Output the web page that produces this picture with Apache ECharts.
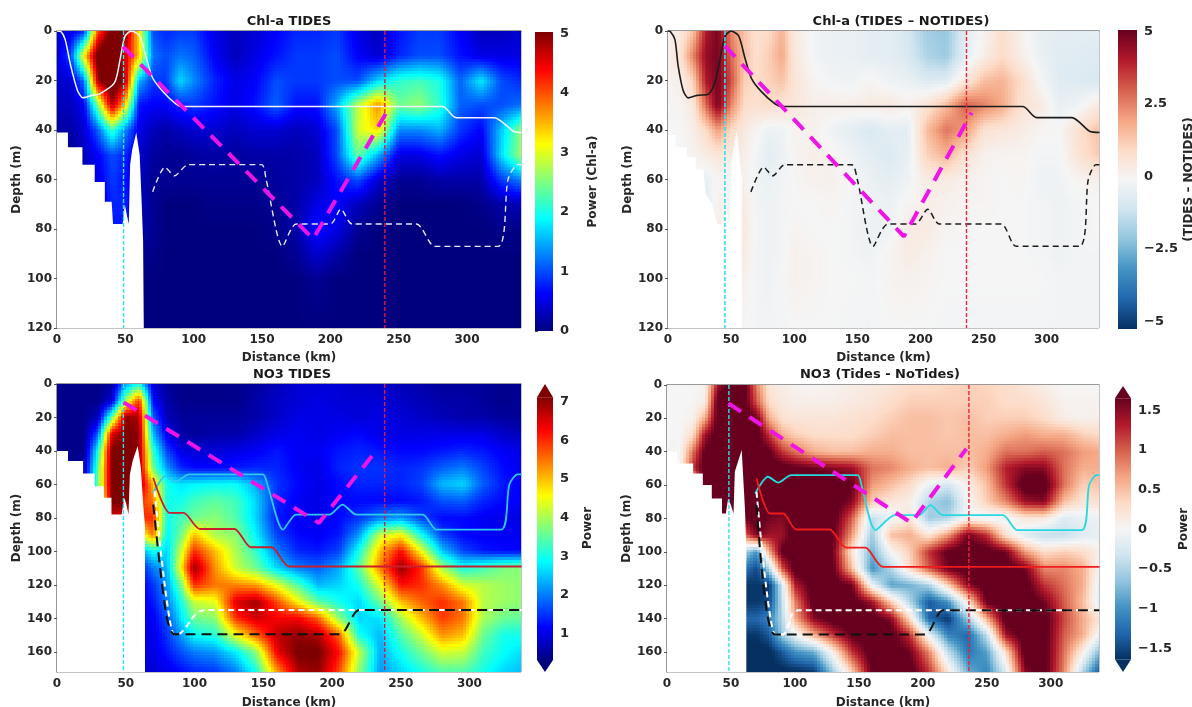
<!DOCTYPE html>
<html>
<head>
<meta charset="utf-8">
<title>Chl-a and NO3 power sections</title>
<script src="https://cdn.jsdelivr.net/npm/echarts@6/dist/echarts.min.js"></script>
<style>
  html, body { margin: 0; padding: 0; background: #fff; overflow: hidden; }
  #chart { width: 1192px; height: 707px; }
</style>
</head>
<body>
<div id="chart"></div>
<script>
// grid nodes of all four sections
const xsKm = [0,10,20,30,40,50,60,70,80,90,100,115,130,145,160,175,190,205,220,235,250,265,280,295,310,325,342];
const depthTop = [0,10,20,30,40,50,60,70,80,90,100,120];
const depthBot = [0,10,20,30,40,50,60,70,80,90,100,110,120,130,140,150,160,172];

// Chl-a TIDES
const chlTides = [
  [.4,.5,.8,4,5.2,5,3.2,1,.8,.9,.9,.5,.3,.4,.6,.8,.8,.9,.5,.3,.7,.9,.9,.6,.3,.3,.4],
  [.4,1,3.2,5.3,5.5,4.6,3.4,1.2,1,1.2,1.1,.6,.3,.5,.7,.9,.9,1,.6,.4,.8,1,1,.7,.5,.5,.5],
  [.4,.4,1.2,4.8,5.5,4.8,1.5,.9,.9,1.7,1.3,.8,.5,.6,1,.9,.9,1,1,1.7,2.1,2.2,2,1.1,1.8,1,.8],
  [.3,.3,.6,2.5,4.8,3.4,.7,.6,.6,.8,.9,.7,.5,.7,1.1,.7,.7,1.5,2.8,3.7,2.4,2.6,2.1,1.1,1,1,1.2],
  [.2,.2,.4,1.1,2.2,1.3,.5,.3,.2,.3,.4,.4,.3,.4,.4,.3,.4,1,2.9,3.3,1.3,1.3,1.5,.9,.6,1.6,2.7],
  [.1,.1,.3,.6,1,.8,.4,.15,.1,.1,.15,.2,.15,.2,.2,.2,.3,1,2.4,1.5,.5,.5,.7,.5,.4,1.7,2.8],
  [0,.1,.2,.5,.9,.7,.3,.1,.1,.1,.1,.1,.1,.1,.15,.2,.3,.7,1,.4,.1,.1,.2,.2,.2,.9,1.3],
  [0,0,.1,.3,.8,.8,.3,.1,0,0,0,.05,.05,.05,.1,.2,.5,.6,.3,.1,0,0,0,0,.05,.2,.3],
  [0,0,0,.2,.7,.7,.2,.1,0,0,0,0,0,0,.05,.2,.7,.5,.1,0,0,0,0,0,0,.05,.05],
  [0,0,0,.1,.3,.3,.1,.05,0,0,0,0,0,0,0,.1,.4,.2,0,0,0,0,0,0,0,0,0],
  [0,0,0,0,0,0,0,0,0,0,0,0,0,0,0,0,.1,0,0,0,0,0,0,0,0,0,0],
  [0,0,0,0,0,0,0,0,0,0,0,0,0,0,0,0,0,0,0,0,0,0,0,0,0,0,0]
];

// Chl-a (TIDES - NOTIDES)
const chlDiff = [
  [.2,.5,1.5,4.2,5,2.5,1.5,.8,1,1.8,.5,-.1,-.3,-.3,-.5,-.5,-.9,-1.8,-2,-.6,.1,.9,.2,-.4,-.5,-.5,-.5],
  [.2,.8,2.6,4.6,5,3,1.6,.9,1.3,2,.6,-.1,-.3,-.3,-.5,-.5,-.8,-1.6,-1.9,-.5,.3,1,.3,-.3,-.6,-.6,-.7],
  [.1,.3,1.2,4.2,5,3.4,1.3,1,1.2,1.5,.7,.1,-.1,-.2,.1,-.2,-.3,-.7,-.6,.5,1.6,1.8,1,0,-.6,-.7,-.8],
  [0,.1,.5,3,5,2.6,1,.8,1,.8,.6,.3,.3,.3,.4,.5,.2,.7,1.6,3.1,2.6,2,.8,.5,-.4,-.2,.5],
  [0,0,.3,1,2.2,1,.5,.1,-.3,-.2,.1,.2,-.2,-.5,-.8,-.5,-.5,1.6,2.8,2.2,.8,.6,.4,.1,0,.8,1.6],
  [0,0,.1,.4,.6,.4,.3,-.1,-.5,-.3,.1,.3,.1,-.2,-.5,-.7,-.4,1.2,1.8,.8,.2,.1,.1,-.1,-.1,.7,1.4],
  [0,0,-.1,-.4,.1,0,.2,-.2,-.3,-.1,0,.2,.2,0,-.3,-.5,-.2,.4,.4,.2,.1,0,.1,-.2,-.2,.1,.2],
  [0,0,0,-.5,.2,0,.4,-.1,-.2,-.1,0,0,.1,-.1,-.2,-.3,.1,.3,.2,.1,.1,0,0,-.1,-.2,-.1,0],
  [0,0,0,0,.3,0,.5,-.1,-.2,-.1,.1,0,0,-.1,-.3,-.2,.4,.4,.1,0,0,0,0,-.1,-.2,-.1,0],
  [0,0,0,0,0,0,.4,-.1,-.2,-.1,.2,.1,0,-.1,-.2,.1,.4,.2,0,0,0,0,0,-.1,-.2,-.1,-.1],
  [0,0,0,0,0,0,.2,-.1,-.2,0,.2,.1,0,0,-.1,.1,.2,.1,0,0,0,0,0,0,-.1,-.1,-.1],
  [0,0,0,0,0,0,0,-.1,-.1,-.1,0,0,0,-.1,-.1,0,0,0,-.1,-.1,-.1,-.1,-.1,-.1,-.1,-.1,-.1]
];

// NO3 TIDES
const no3Tides = [
  [.4,.4,.4,.4,.5,2.2,3,.9,.5,.4,.4,.4,.4,.5,.7,.9,.9,.9,.8,.8,.7,.6,.5,.5,.5,.4,.5],
  [.4,.4,.4,.4,.9,4,6,1.2,.6,.4,.4,.4,.4,.6,.8,.9,1,.9,.9,.9,.8,.7,.6,.6,.5,.4,.5],
  [.4,.4,.4,.7,3.5,7,6.8,1.8,.7,.5,.5,.5,.5,.6,.8,1,1,1,.9,1,.9,.8,.7,.6,.6,.5,.5],
  [.4,.4,.4,1.8,6.5,7.2,7,2.4,1,.6,.5,.6,.6,.8,1,1.1,1,1.1,1.2,1,1,1,1,1,1,.8,.7],
  [.4,.4,.4,3,7.2,7.2,7,3.2,1.6,1,.9,.9,1,1.1,1.3,1.1,1.1,1.3,1.4,1.3,1.2,1.2,1.3,1.4,1.3,1.1,1],
  [.4,.4,.6,3.5,7.2,7.2,7,3.6,2.2,1.4,1.2,1.2,1.3,1.4,1.4,1.1,1,1.4,1.5,1.5,1.4,1.5,1.8,2,1.6,1.2,1],
  [.4,.4,.6,3.6,7.2,7.2,7,5,3,2.7,2.8,2.9,2.9,2.3,1.5,1.2,1,1.2,1.4,1.4,1.4,1.6,2.4,2.6,1.8,1.3,1.1],
  [.4,.4,.6,3,7.2,7.2,6,5.5,3,3,3.3,3.5,3.3,2.6,1.4,1.1,1,1.2,1.2,1.2,1.2,1.3,1.7,1.8,1.4,1.2,1.1],
  [.4,.4,.6,2,6.5,6.5,6,6,3,3.3,3.6,3.8,3.4,2.6,1.3,1.1,1,1.2,1.5,2,2.2,1.6,1.2,1.2,1.1,1,1],
  [.4,.4,.4,.4,.4,.4,4,5.5,2.8,3.6,5,4,3.8,2.8,1.6,1.2,1.1,1.3,2.2,4.2,4.6,3,1.6,1.2,1.1,1.1,1.1],
  [.4,.4,.4,.4,.4,.4,2,3,2.6,4.2,6,5,4,3.2,2,1.4,1.3,1.6,3,5,6.2,4.5,2.5,1.6,1.3,1.2,1.2],
  [.4,.4,.4,.4,.4,.4,1.2,2,2.4,4.6,7,5.3,4.2,3.6,2.6,2,1.8,2.3,3.5,5.4,7,6,4,3,3.3,3.7,3.8],
  [.4,.4,.4,.4,.4,.4,1,1.5,2.2,3.6,6,5.5,5.4,5.2,4.4,3.4,2.4,2.6,3,4.4,6.2,6,5.3,4.3,4.1,3.9,3.8],
  [.4,.4,.4,.4,.4,.4,1,1.3,2,3,4.2,4.4,6.5,6.9,5.8,4.6,3.5,3,2.6,3.6,5,5.6,6,5.5,4.1,3.9,3.8],
  [.4,.4,.4,.4,.4,.4,1,1.1,1.7,2.7,3.6,3.8,6,6.6,6.3,6.3,5.6,3.8,2.6,2.7,4,5,5.9,5.5,4,3.6,3.5],
  [.4,.4,.4,.4,.4,.4,1,1,1.5,2.2,2.9,3.1,4.5,5.6,6.7,7,6.8,5.6,3,2.4,3.4,4.2,5.3,5,3.6,3,3],
  [.4,.4,.4,.4,.4,.4,.9,1,1.3,1.7,2,2.2,2.8,3.8,6.4,7.2,7.2,6.2,4.2,2.3,3,3.6,4.3,4.2,3.3,2.9,2.6],
  [.4,.4,.4,.4,.4,.4,.8,.9,1,1.2,1.4,1.5,2,3,5.2,6.8,7,5.8,3.8,2.2,2.6,3,3.4,3.4,3,2.6,2.4]
];

// NO3 (Tides - NoTides)
const no3Diff = [
  [0,0,0,.05,1.4,1.8,1.8,.8,.2,.1,.05,0,.05,.1,.15,.2,.3,.3,.35,.4,.35,.3,.2,.1,0,0,0],
  [0,0,0,.1,1.8,1.8,1.8,1,.3,.15,.1,.1,.1,.15,.2,.3,.4,.4,.4,.4,.4,.3,.3,.2,.05,.05,.05],
  [0,0,.05,.6,1.8,1.8,1.8,1.6,.6,.25,.2,.2,.2,.25,.3,.4,.5,.5,.45,.5,.4,.4,.4,.3,.1,.05,.1],
  [0,0,.3,1.4,1.8,1.8,1.8,1.8,1.2,.6,.4,.3,.3,.3,.4,.5,.5,.5,.45,.5,.5,.6,.7,.6,.6,.4,.3],
  [.05,0,.9,1.7,1.8,1.8,1.8,1.8,1.7,1.2,.9,.6,.5,.5,.6,.6,.5,.5,.5,.5,.6,.9,.9,1,.9,.7,.6],
  [0,0,1.2,1.8,1.8,1.8,1.8,1.8,1.8,1.8,1.7,1.6,1.5,1.4,.9,.8,.6,.5,.6,.4,.7,1.3,1.5,1.5,.9,.6,.6],
  [0,0,0,1.8,1.8,1.8,1.8,1.8,1.8,1.8,1.8,1.8,1.8,1.7,.7,.5,.3,-.1,-.3,.1,.5,1.2,1.8,1.8,.9,.4,.5],
  [0,0,0,1.8,1.8,1.8,1.8,1.8,1.8,1.8,1.8,1.8,1.8,1.5,.4,.2,.1,-.5,-.7,0,.4,.8,1.4,1.5,.5,.2,.3],
  [0,0,0,0,1.8,1.8,1.6,1.8,1.6,1.5,1.8,1.8,1.8,1,-.4,-.1,.2,-.6,-.5,0,-.1,-.1,.2,.2,-.2,-.1,-.1],
  [0,0,0,0,0,0,.9,1.6,1.4,1.4,1.8,1.8,1.7,.7,-.6,.5,.6,.2,.7,1.6,1.2,.2,-.2,-.4,-.4,-.2,-.1],
  [0,0,0,0,0,0,-.5,-1,.6,1.7,1.8,1.8,1.6,.2,-.8,0,.4,1.2,1.7,1.8,1.8,1.6,.7,.3,.4,.3,0],
  [0,0,0,0,0,0,-1.2,-1.5,-.5,1,1.8,1.8,1.7,.5,-1,-.5,.3,1,1.6,1.8,1.8,1.8,1.6,.8,.8,.6,-.2],
  [0,0,0,0,0,0,-1.6,-1.6,-1.6,-.3,1.3,1.8,1.8,1.6,-.1,-.9,-.8,-.5,.4,1.5,1.8,1.8,1.8,1.2,.9,.6,-.4],
  [0,0,0,0,0,0,-1.6,-1.6,-1.5,-.4,.8,1.8,1.8,1.8,1.4,.4,-.5,-1.4,-1,.2,1.7,1.8,1.8,1.6,1,.5,-.4],
  [0,0,0,0,0,0,-1.3,-1.3,-1.1,-.5,.6,1.5,1.8,1.8,1.8,1.5,.3,-1.3,-1.6,-.6,.6,1.8,1.8,1.8,1.1,.6,.1],
  [0,0,0,0,0,0,-1.6,-1.6,-1.4,-.6,-.1,.6,1.2,1.7,1.8,1.8,1.2,-.1,-1.1,-1.3,-.4,1.4,1.8,1.8,1,.6,-.3],
  [0,0,0,0,0,0,-1.7,-1.7,-1.7,-1.4,-1,-.8,.1,1.2,1.8,1.8,1.6,.8,-.4,-1.2,-.9,.3,1.8,1.8,.9,.1,-1],
  [0,0,0,0,0,0,-1.7,-1.7,-1.7,-1.7,-1.7,-1.6,-.6,.4,1.7,1.8,1.8,1.2,.2,-.8,-1.1,-.2,1.5,1.8,.8,-.5,-1.7]
];

// seabed outlines, [km, depth]
const seabedTL = [[0,41],[8,41],[8,47],[18.6,47],[18.6,54],[27.6,54],[27.6,61],[35,61],[35,69],[40,69],[41,78],[48,78],[49.6,70],[51,74],[52.5,78],[53.5,54],[55,48],[58,41],[60.5,50],[62,70],[63,85],[63.5,120],[0,120]];
const seabedTR = [[0,42],[6,42],[6,47],[15,47],[15,51],[22,51],[22,56],[28,56],[30,66],[35,70],[39,78],[44,78],[45,70],[47,74],[49,78],[50,54],[54.5,40],[58.4,60],[58.4,120],[0,120]];
const seabedBL = [[0,40],[8,40],[8,46],[19,46],[19,53.5],[27.5,53.5],[27.5,61],[34,61],[34,68],[39.6,68],[39.6,78],[47,78],[49,68],[50.5,72],[52,78],[53,54],[55,46],[58.7,37],[61,50],[62.5,70],[64,85],[64,172],[0,172]];
const seabedBR = [[0,40],[8,40],[8,47],[20.5,47],[20.5,53],[28,53],[28,60],[35,60],[35,68],[43,68],[43,77],[46,77],[47.8,68],[50,72],[52,77],[53,52],[58.4,39],[61,75],[62,100],[62,172],[0,172]];

// top panels: surface-layer curve
const curveDepth = [0,.3,3.5,14,24,27,26,25.5,21,12,2.3,0,2,11,19,24.5,29.5,30.5,30.5,35,35,40.5,41];
const curveKmTL = [0,3,6,10,15,19,26,31,42,46,49.6,54.4,60.5,65.4,70,77.6,87,91,282,292,320,334,340];
const curveKmTR = [0,2,5.5,8,12,16,23,32,37,41,45,50,56,61,66,74,85,91,281,292,320,334,342];

// thermocline curve, shared by all panels
const thermoDepth = [65,55,58.5,54,54,60,87,78,78,72,78,78,87,87,60,54,54];
const thermoKmTL = [70,79,86,96,149.6,153,165,175,200,207.7,216,263,276.5,322.6,330,337,340];
const thermoKmTR = [65.7,75.8,83,92.6,145.4,150,162.5,174,196,205.8,215,264,276,326,333,339,342];
const thermoKmBL = [70,79,86,96,149.7,153,164.4,174,198,207.7,217.7,266,276,323,329,335,338];
const thermoKmBR = [69,79,87,97,149,152,163,178,197,206,215.6,262.6,274,324,330,335.7,338];

// bottom panels: red and black curves
const redDepth = [56,77,77,86.6,86.6,97.5,97.5,109,109];
const redKmBL = [70,82,92,104,129,141,156,169,338];
const redKmBR = [70,80.5,90.8,101,127,140,155,169,338];
const blackDepth = [72,110,140,149.5,149.5,135,135];
const blackKmBL = [70,75,80,85.6,205.6,220,338];
const blackKmBR = [70,74,79,84.5,201.6,216,338];
const whiteDepth = [64,149.5,149.5,137,135,135];
const whiteKmBL = [71,85,88,101.4,108,338];
const whiteKmBR = [70,84.5,90.8,98,102.4,338];

// magenta section, vertical markers
const magentaTL = [[48.3,6.3],[187.4,84],[241,33]];
const magentaTR = [[45,6],[186.9,83],[240.5,33]];
const magentaBL = [[48.5,11],[190.5,83],[233.5,38.4]];
const magentaBR = [[48,11],[191,82.6],[234,38.2]];
const cyanKm = [48.7,45.1,48.3,48.4];
const redKm = [239.9,236.5,238.3,236];

// tick labels
const tickKm = [0,50,100,150,200,250,300];
const tickDepthTop = [0,20,40,60,80,100,120];
const tickDepthBot = [0,20,40,60,80,100,120,140,160];
const tickChl = [0,1,2,3,4,5];
const tickChlDiff = [-5,-2.5,0,2.5,5];
const tickNo3 = [1,2,3,4,5,6,7];
const tickNo3Diff = [-1.5,-1,-.5,0,.5,1,1.5];

const JET = ['#00007f','#0000ff','#007fff','#00ffff','#7fff7f','#ffff00','#ff7f00','#ff0000','#7f0000'];
const RDBU = ['#053061','#2166ac','#4393c3','#92c5de','#d1e5f0','#f5f5f5','#fddbc7','#f4a582','#d6604d','#b2182b','#67001f'];
const FONT = 'DejaVu Sans';
const INK = '#262626';
const SUB_PX = 3;

function toRgb(hex) {
  return [parseInt(hex.slice(1, 3), 16), parseInt(hex.slice(3, 5), 16), parseInt(hex.slice(5, 7), 16)];
}

function makeColormap(stops, lo, hi) {
  const rgb = stops.map(toRgb);
  return function (v) {
    let t = (v - lo) / (hi - lo);
    t = Math.max(0, Math.min(1, t)) * (rgb.length - 1);
    const i = Math.min(rgb.length - 2, Math.floor(t));
    const f = t - i;
    const c = [0, 1, 2].map(k => Math.round(rgb[i][k] + (rgb[i + 1][k] - rgb[i][k]) * f));
    return 'rgb(' + c.join(',') + ')';
  };
}

// each grid cell is shaded between its four corner values
function heatSeries(idx, depths, values, colorOf) {
  const cells = [];
  for (let r = 0; r < depths.length - 1; r++) {
    for (let c = 0; c < xsKm.length - 1; c++) {
      cells.push([xsKm[c], depths[r], xsKm[c + 1], depths[r + 1],
        values[r][c], values[r][c + 1], values[r + 1][c], values[r + 1][c + 1]]);
    }
  }
  return {
    type: 'custom',
    coordinateSystem: 'cartesian2d',
    xAxisIndex: idx,
    yAxisIndex: idx,
    silent: true,
    progressive: 0,
    clip: true,
    data: cells,
    renderItem: function (params, api) {
      const a = api.coord([api.value(0), api.value(1)]);
      const b = api.coord([api.value(2), api.value(3)]);
      const v00 = api.value(4), v10 = api.value(5), v01 = api.value(6), v11 = api.value(7);
      const x0 = Math.round(a[0]), x1 = Math.round(b[0]);
      const y0 = Math.round(a[1]), y1 = Math.round(b[1]);
      const children = [];
      for (let y = y0; y < y1; y += SUB_PX) {
        const h = Math.min(SUB_PX, y1 - y);
        const ty = (y + h / 2 - y0) / (y1 - y0);
        for (let x = x0; x < x1; x += SUB_PX) {
          const w = Math.min(SUB_PX, x1 - x);
          const tx = (x + w / 2 - x0) / (x1 - x0);
          const top = v00 + (v10 - v00) * tx;
          const bot = v01 + (v11 - v01) * tx;
          children.push({
            type: 'rect',
            silent: true,
            shape: { x: x, y: y, width: w, height: h },
            style: { fill: colorOf(top + (bot - top) * ty) }
          });
        }
      }
      return { type: 'group', children: children };
    }
  };
}

function polygonSeries(idx, points, fill) {
  return {
    type: 'custom',
    coordinateSystem: 'cartesian2d',
    xAxisIndex: idx,
    yAxisIndex: idx,
    silent: true,
    data: [0],
    renderItem: function (params, api) {
      return {
        type: 'polygon',
        silent: true,
        shape: { points: points.map(p => api.coord(p)) },
        style: { fill: fill }
      };
    }
  };
}

function zipLine(xs, ys) {
  return xs.map((x, i) => [x, ys[i]]);
}

function lineSeries(idx, data, color, width, dash, smooth) {
  return {
    type: 'line',
    xAxisIndex: idx,
    yAxisIndex: idx,
    data: data,
    showSymbol: false,
    silent: true,
    smooth: smooth ? 0.25 : false,
    lineStyle: { color: color, width: width, type: dash || 'solid' }
  };
}

function colorbarSeries(idx, stops, lo, hi, extendLo, extendHi) {
  const reversed = stops.slice().reverse();
  return {
    type: 'custom',
    coordinateSystem: 'cartesian2d',
    xAxisIndex: idx,
    yAxisIndex: idx,
    silent: true,
    data: [0],
    renderItem: function (params, api) {
      const p0 = api.coord([0, hi]), p1 = api.coord([1, lo]);
      const children = [{
        type: 'rect',
        shape: { x: p0[0], y: p0[1], width: p1[0] - p0[0], height: p1[1] - p0[1] },
        style: {
          fill: new echarts.graphic.LinearGradient(0, 0, 0, 1,
            reversed.map((c, i) => ({ offset: i / (reversed.length - 1), color: c })))
        }
      }];
      if (extendHi !== undefined) {
        children.push({
          type: 'polygon',
          shape: { points: [api.coord([0, hi]), api.coord([1, hi]), api.coord([.5, extendHi])] },
          style: { fill: stops[stops.length - 1] }
        });
        children.push({
          type: 'polygon',
          shape: { points: [api.coord([0, lo]), api.coord([1, lo]), api.coord([.5, extendLo])] },
          style: { fill: stops[0] }
        });
      }
      return { type: 'group', children: children };
    }
  };
}

const panelBoxes = [
  { left: 57, top: 31, width: 464, height: 297 },
  { left: 668, top: 31, width: 431, height: 297 },
  { left: 57, top: 384, width: 464, height: 288 },
  { left: 667, top: 385, width: 432, height: 287 }
];
const barBoxes = [
  { left: 535, top: 32, width: 18, height: 299 },
  { left: 1118, top: 30, width: 19, height: 299 },
  { left: 537, top: 384, width: 16, height: 288 },
  { left: 1115, top: 386, width: 16, height: 286 }
];
const kmMax = [339.5, 341.5, 337.5, 337.7];
const depthMax = [120, 120, 172, 172];
const depthTicks = [tickDepthTop, tickDepthTop, tickDepthBot, tickDepthBot];
const distanceGap = [24, 24, 25, 25];

const barRanges = [
  { min: 0, max: 5.02, ticks: tickChl, name: 'Power (Chl-a)', gap: 34 },
  { min: -5.27, max: 5.05, ticks: tickChlDiff, name: '(TIDES \u2013 NOTIDES)', gap: 46 },
  { min: 0.01, max: 7.46, ticks: tickNo3, name: 'Power', gap: 29 },
  { min: -1.797, max: 1.805, ticks: tickNo3Diff, name: 'Power', gap: 47 }
];

const axisLabel = { color: INK, fontFamily: FONT, fontWeight: 'bold', fontSize: 12 };
const nameStyle = { color: INK, fontFamily: FONT, fontWeight: 'bold', fontSize: 12 };
const spine = { show: true, lineStyle: { color: '#8a8a8a', width: 1.5 } };

const grids = [], xAxes = [], yAxes = [];
panelBoxes.forEach((box, i) => {
  grids.push(Object.assign({ show: true, borderColor: '#8a8a8a', borderWidth: 1, backgroundColor: '#fff', outerBoundsMode: 'none' }, box));
  xAxes.push({
    type: 'value', gridIndex: i, min: 0, max: kmMax[i], position: 'bottom',
    name: 'Distance (km)', nameLocation: 'middle', nameGap: distanceGap[i], nameTextStyle: nameStyle,
    splitLine: { show: false }, axisLine: spine,
    axisTick: { length: 3, customValues: tickKm, lineStyle: { color: '#555' } },
    axisLabel: Object.assign({ margin: 6, customValues: tickKm }, axisLabel)
  });
  yAxes.push({
    type: 'value', gridIndex: i, inverse: true, min: 0, max: depthMax[i], position: 'left',
    name: 'Depth (m)', nameLocation: 'middle', nameGap: 28, nameTextStyle: nameStyle,
    splitLine: { show: false }, axisLine: spine,
    axisTick: { length: 3, customValues: depthTicks[i], lineStyle: { color: '#555' } },
    axisLabel: Object.assign({ margin: 5, customValues: depthTicks[i] }, axisLabel)
  });
});
barBoxes.forEach((box, i) => {
  const r = barRanges[i];
  grids.push(Object.assign({ show: false, outerBoundsMode: 'none' }, box));
  xAxes.push({ type: 'value', gridIndex: 4 + i, min: 0, max: 1, show: false });
  yAxes.push({
    type: 'value', gridIndex: 4 + i, min: r.min, max: r.max, position: 'right',
    name: r.name, nameLocation: 'middle', nameGap: r.gap, nameRotate: 90, nameTextStyle: nameStyle,
    splitLine: { show: false }, axisLine: { show: false },
    axisTick: { length: 3, customValues: r.ticks, lineStyle: { color: '#555' } },
    axisLabel: Object.assign({
      margin: 7, customValues: r.ticks,
      formatter: v => String(v).replace('-', '\u2212')
    }, axisLabel, { fontSize: 13 })
  });
});

const cmapChl = makeColormap(JET, 0, 5);
const cmapChlDiff = makeColormap(RDBU, -5.2, 5.2);
const cmapNo3 = makeColormap(JET, .32, 7.12);
const cmapNo3Diff = makeColormap(RDBU, -1.64, 1.64);

const vertical = (km, dMax) => [[km, 0], [km, dMax]];
const dashThin = [4, 2];
const dashMag = [15, 10];
const dashCurve = [6, 4];
const cyan = '#2be4f0';
const redV = '#e5183c';
const magenta = '#ee14e6';

const series = [
  // Chl-a TIDES
  heatSeries(0, depthTop, chlTides, cmapChl),
  polygonSeries(0, seabedTL, '#fff'),
  lineSeries(0, zipLine(curveKmTL, curveDepth), '#f4f4f8', 1.5, null, true),
  lineSeries(0, zipLine(thermoKmTL, thermoDepth), '#e8e8f4', 1.4, dashCurve, true),
  lineSeries(0, vertical(cyanKm[0], 120), cyan, 1.4, dashThin),
  lineSeries(0, vertical(redKm[0], 120), redV, 1.4, dashThin),
  lineSeries(0, magentaTL, magenta, 4, dashMag),
  // Chl-a diff
  heatSeries(1, depthTop, chlDiff, cmapChlDiff),
  polygonSeries(1, seabedTR, '#fff'),
  lineSeries(1, zipLine(curveKmTR, curveDepth), '#1c1c1c', 1.6, null, true),
  lineSeries(1, zipLine(thermoKmTR, thermoDepth), '#1c1c1c', 1.5, dashCurve, true),
  lineSeries(1, vertical(cyanKm[1], 120), cyan, 1.6, dashThin),
  lineSeries(1, vertical(redKm[1], 120), '#f0203c', 1.4, dashThin),
  lineSeries(1, magentaTR, magenta, 4, dashMag),
  // NO3 TIDES
  heatSeries(2, depthBot, no3Tides, cmapNo3),
  polygonSeries(2, seabedBL, '#fff'),
  lineSeries(2, zipLine(thermoKmBL, thermoDepth), '#2fc8ee', 1.8, null, true),
  lineSeries(2, zipLine(redKmBL, redDepth), '#c8202e', 1.8, null, true),
  lineSeries(2, zipLine(whiteKmBL, whiteDepth), '#fff', 2, dashCurve, true),
  lineSeries(2, zipLine(blackKmBL, blackDepth), '#101010', 2, [10, 6], true),
  lineSeries(2, vertical(cyanKm[2], 172), cyan, 1.4, dashThin),
  lineSeries(2, vertical(redKm[2], 172), redV, 1.4, dashThin),
  lineSeries(2, magentaBL, magenta, 4, dashMag),
  // NO3 diff
  heatSeries(3, depthBot, no3Diff, cmapNo3Diff),
  polygonSeries(3, seabedBR, '#fff'),
  lineSeries(3, zipLine(thermoKmBR, thermoDepth), '#28d8e0', 1.8, null, true),
  lineSeries(3, zipLine(redKmBR, redDepth), '#f01c1c', 1.8, null, true),
  lineSeries(3, zipLine(whiteKmBR, whiteDepth), '#fff', 2, dashCurve, true),
  lineSeries(3, zipLine(blackKmBR, blackDepth), '#101010', 2, [10, 6], true),
  lineSeries(3, vertical(cyanKm[3], 172), cyan, 1.4, dashThin),
  lineSeries(3, vertical(redKm[3], 172), '#f0203c', 1.4, dashThin),
  lineSeries(3, magentaBR, magenta, 4, dashMag),
  // colorbars
  colorbarSeries(4, JET, 0, 5.02),
  colorbarSeries(5, RDBU, -5.27, 5.05),
  colorbarSeries(6, JET, .32, 7.12, .01, 7.46),
  colorbarSeries(7, RDBU, -1.64, 1.65, -1.797, 1.805)
];

function titleAt(text, x, y) {
  return {
    text: text, left: x, top: y, textAlign: 'center',
    textStyle: { fontFamily: FONT, fontWeight: 'bold', fontSize: 13, color: '#1a1a1a' }
  };
}

const chart = echarts.init(document.getElementById('chart'), null, { renderer: 'canvas' });
chart.setOption({
  animation: false,
  backgroundColor: '#fff',
  title: [
    titleAt('Chl-a TIDES', 284, 10),
    titleAt('Chl-a (TIDES \u2013 NOTIDES)', 896, 10),
    titleAt('NO3 TIDES', 287, 363),
    titleAt('NO3 (Tides - NoTides)', 875, 363)
  ],
  grid: grids,
  xAxis: xAxes,
  yAxis: yAxes,
  series: series
});
</script>
</body>
</html>
